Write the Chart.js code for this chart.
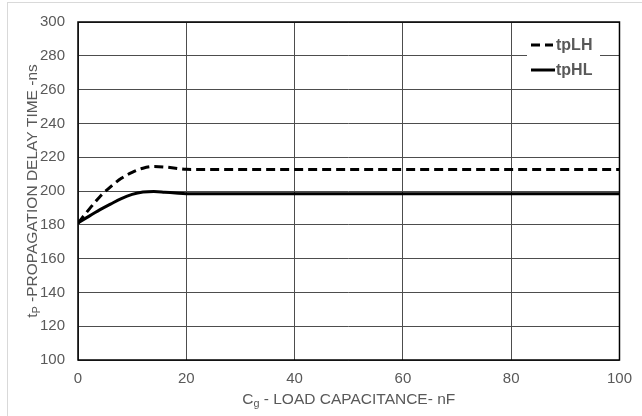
<!DOCTYPE html>
<html>
<head>
<meta charset="utf-8">
<script src="https://cdn.jsdelivr.net/npm/chart.js@4.4.1/dist/chart.umd.min.js"></script>
<style>
  html, body { margin: 0; padding: 0; background: #ffffff; }
  #wrap { position: relative; width: 642px; height: 416px; overflow: hidden; }
  #frame { position: absolute; left: 7px; top: 2px; width: 700px; height: 500px;
           border-left: 1px solid #d9d9d9; border-top: 1px solid #d9d9d9; }
  #c { position: absolute; left: 0; top: 0; }
</style>
</head>
<body>
<div id="wrap">
  <div id="frame"></div>
  <canvas id="c" width="642" height="416"></canvas>
</div>
<script>
// Load capacitance (nF) and propagation delays (ns)
const capacitance = [0, 2, 4, 6, 8, 10, 12, 14, 16, 18, 20, 40, 60, 80, 100];
const tpLH = [181, 189, 196.5, 202.5, 207.5, 211, 213.5, 214.5, 214.2, 213.5, 212.8, 212.7, 212.7, 212.7, 212.7];
const tpHL = [181, 185, 188.8, 192.2, 195.5, 198, 199.4, 199.7, 199.3, 198.8, 198.4, 198.3, 198.3, 198.3, 198.3];
const xTicks = [0, 20, 40, 60, 80, 100];
const yTicks = [100, 120, 140, 160, 180, 200, 220, 240, 260, 280, 300];

const FONT = "'Liberation Sans', Arial, sans-serif";
const TEXT = '#595959';

const toPoints = (ys) => capacitance.map((x, i) => ({ x: x, y: ys[i] }));

// Axis titles with subscripts, a framed plot area and an inset legend
const decorations = {
  id: 'decorations',
  afterDraw(chart) {
    const ctx = chart.ctx;
    const a = chart.chartArea;

    // plot frame
    ctx.save();
    ctx.strokeStyle = '#000000';
    ctx.lineWidth = 1.5;
    ctx.strokeRect(a.left, a.top, a.right - a.left, a.bottom - a.top);
    ctx.restore();

    // text with a subscript part, drawn centred at (0,0) in the current transform
    function subText(main, sub, rest, size) {
      ctx.font = size + 'px ' + FONT;
      const w1 = ctx.measureText(main).width;
      const w3 = ctx.measureText(rest).width;
      ctx.font = (size * 0.7) + 'px ' + FONT;
      const w2 = ctx.measureText(sub).width;
      const total = w1 + w2 + w3;
      let x = -total / 2;
      ctx.fillStyle = TEXT;
      ctx.textBaseline = 'alphabetic';
      ctx.textAlign = 'left';
      ctx.font = size + 'px ' + FONT;
      ctx.fillText(main, x, size * 0.36);
      x += w1;
      ctx.font = (size * 0.7) + 'px ' + FONT;
      ctx.fillText(sub, x, size * 0.36 + size * 0.25);
      x += w2;
      ctx.font = size + 'px ' + FONT;
      ctx.fillText(rest, x, size * 0.36);
    }

    // x-axis title
    ctx.save();
    ctx.translate((a.left + a.right) / 2, 398);
    subText('C', 'g', ' - LOAD CAPACITANCE- nF', 15.5);
    ctx.restore();

    // y-axis title
    ctx.save();
    ctx.translate(31, (a.top + a.bottom) / 2);
    ctx.rotate(-Math.PI / 2);
    subText('t', 'P', ' -PROPAGATION DELAY TIME -ns', 15.5);
    ctx.restore();

    // legend
    ctx.save();
    ctx.fillStyle = '#ffffff';
    ctx.fillRect(527, 36, 73, 44);
    chart.data.datasets.forEach((ds, i) => {
      const y = 45 + i * 25;
      ctx.beginPath();
      ctx.strokeStyle = ds.borderColor;
      ctx.lineWidth = ds.borderWidth;
      ctx.setLineDash(ds.borderDash || []);
      ctx.moveTo(531, y);
      ctx.lineTo(i === 0 ? 553 : 555, y);
      ctx.stroke();
      ctx.setLineDash([]);
      ctx.fillStyle = TEXT;
      ctx.font = 'bold 16px ' + FONT;
      ctx.textAlign = 'left';
      ctx.textBaseline = 'middle';
      ctx.fillText(ds.label, 556, y + 1);
    });
    ctx.restore();
  }
};

new Chart(document.getElementById('c'), {
  type: 'line',
  data: {
    datasets: [
      {
        label: 'tpLH',
        data: toPoints(tpLH),
        borderColor: '#000000',
        borderWidth: 3,
        borderDash: [9, 5],
        pointRadius: 0,
        fill: false,
        cubicInterpolationMode: 'monotone'
      },
      {
        label: 'tpHL',
        data: toPoints(tpHL),
        borderColor: '#000000',
        borderWidth: 3,
        pointRadius: 0,
        fill: false,
        cubicInterpolationMode: 'monotone'
      }
    ]
  },
  options: {
    responsive: false,
    animation: false,
    layout: { padding: { left: 0, right: 21, top: 15, bottom: 0 } },
    plugins: { legend: { display: false }, tooltip: { enabled: false } },
    scales: {
      x: {
        type: 'linear',
        min: 0,
        max: 100,
        afterBuildTicks(scale) { scale.ticks = xTicks.map(v => ({ value: v })); },
        afterFit(scale) { scale.height = 56; },
        ticks: { color: TEXT, font: { family: FONT, size: 15 }, padding: 10, maxRotation: 0 },
        grid: { color: '#4d4d4d', lineWidth: 1, drawTicks: false },
        border: { display: false }
      },
      y: {
        min: 100,
        max: 300,
        afterBuildTicks(scale) { scale.ticks = yTicks.map(v => ({ value: v })); },
        afterFit(scale) { scale.width = 78; },
        ticks: { color: TEXT, font: { family: FONT, size: 15 }, padding: 13 },
        grid: { color: '#4d4d4d', lineWidth: 1, drawTicks: false },
        border: { display: false }
      }
    }
  },
  plugins: [decorations]
});
</script>
</body>
</html>
